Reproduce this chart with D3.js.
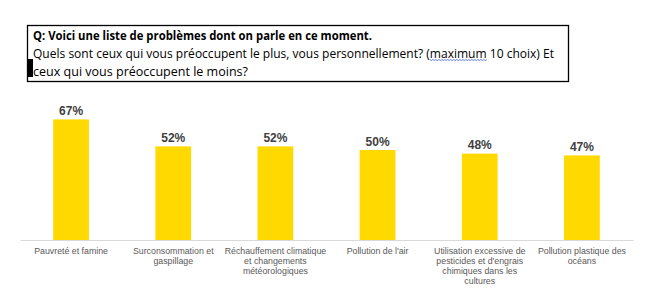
<!DOCTYPE html>
<html>
<head>
<meta charset="utf-8">
<script src="https://cdn.jsdelivr.net/npm/d3@7"></script>
<style>
  html, body { margin: 0; padding: 0; background: #fff; }
  svg { display: block; }
</style>
</head>
<body>
<div id="chart"></div>
<script>
const width = 665;
const height = 297;

// data
const categories = [
  "Pauvreté et famine",
  "Surconsommation et gaspillage",
  "Réchauffement climatique et changements météorologiques",
  "Pollution de l'air",
  "Utilisation excessive de pesticides et d'engrais chimiques dans les cultures",
  "Pollution plastique des océans"
];
const labelLines = [
  ["Pauvreté et famine"],
  ["Surconsommation et", "gaspillage"],
  ["Réchauffement climatique", "et changements", "météorologiques"],
  ["Pollution de l'air"],
  ["Utilisation excessive de", "pesticides et d'engrais", "chimiques dans les", "cultures"],
  ["Pollution plastique des", "océans"]
];
const values = [67, 52, 52, 50, 48, 47];

const titleBold = "Q: Voici une liste de problèmes dont on parle en ce moment.";
const titleLine2 = "Quels sont ceux qui vous préoccupent le plus, vous personnellement? (maximum 10 choix) Et";
const squiggleWord = "maximum";
const titleLine3 = "ceux qui vous préoccupent le moins?";

const svg = d3.select("#chart")
  .append("svg")
  .attr("width", width)
  .attr("height", height);

// ---- question box ----
const box = { x: 27.5, y: 25.5, w: 541, h: 56 };
svg.append("rect")
  .attr("x", box.x).attr("y", box.y)
  .attr("width", box.w).attr("height", box.h)
  .attr("fill", "none")
  .attr("stroke", "#000")
  .attr("stroke-width", 1.3);

const titleFont = "'Open Sans', 'Noto Sans', sans-serif";

function titleText(str, yPos, len, bold) {
  return svg.append("text")
    .attr("x", 33).attr("y", yPos)
    .attr("font-family", titleFont)
    .attr("font-weight", bold ? "bold" : "normal")
    .attr("font-size", 12.5)
    .attr("fill", "#000")
    .attr("textLength", len)
    .attr("lengthAdjust", "spacingAndGlyphs")
    .text(str);
}

titleText(titleBold, 39.5, 339, true);
const t2 = titleText(titleLine2, 57.5, 521, false);
titleText(titleLine3, 76, 215, false);

// spell-check squiggle under "maximum"
{
  const node = t2.node();
  const start = titleLine2.indexOf(squiggleWord);
  const x0 = node.getStartPositionOfChar(start).x;
  const x1 = node.getEndPositionOfChar(start + squiggleWord.length - 1).x;
  const pts = [];
  for (let i = 0; i <= Math.round((x1 - x0) / 1.5); i++) {
    pts.push([x0 + i * 1.5, 59.5 + (i % 2 ? 1 : 0)]);
  }
  svg.append("path")
    .attr("d", d3.line()(pts))
    .attr("fill", "none")
    .attr("stroke", "#3b5bdb")
    .attr("stroke-width", 0.8);
}

// cursor marker
svg.append("rect")
  .attr("x", 27).attr("y", 59)
  .attr("width", 6).attr("height", 18)
  .attr("fill", "#000");

// ---- bar chart ----
const plot = { left: 20, right: 633, bottom: 240, top: 60 };

const x = d3.scaleBand()
  .domain(categories)
  .range([plot.left, plot.right])
  .paddingInner(0.65)
  .paddingOuter(0.325);

const y = d3.scaleLinear()
  .domain([0, 100])
  .range([plot.bottom, plot.top]);

svg.append("g")
  .selectAll("rect")
  .data(values)
  .join("rect")
  .attr("x", (d, i) => x(categories[i]))
  .attr("y", d => y(d))
  .attr("width", x.bandwidth())
  .attr("height", d => y(0) - y(d))
  .attr("fill", "#ffd900");

// baseline axis
const xAxis = svg.append("g")
  .attr("transform", `translate(0, ${plot.bottom})`)
  .call(d3.axisBottom(x).tickSize(0).tickFormat(""));
xAxis.select(".domain").attr("stroke", "#d9d9d9").attr("stroke-width", 1);

// value labels
svg.append("g")
  .selectAll("text")
  .data(values)
  .join("text")
  .attr("x", (d, i) => x(categories[i]) + x.bandwidth() / 2)
  .attr("y", d => y(d) - 4.5)
  .attr("text-anchor", "middle")
  .attr("font-family", "'Liberation Sans', Arial, sans-serif")
  .attr("font-weight", "bold")
  .attr("font-size", 12)
  .attr("fill", "#404040")
  .text(d => d + "%");

// category labels
const catG = svg.append("g")
  .selectAll("text")
  .data(labelLines)
  .join("text")
  .attr("text-anchor", "middle")
  .attr("font-family", "'Liberation Sans', Arial, sans-serif")
  .attr("font-size", 8.8)
  .attr("fill", "#595959");

catG.selectAll("tspan")
  .data((d, i) => d.map(line => ({ line, i })))
  .join("tspan")
  .attr("x", d => x(categories[d.i]) + x.bandwidth() / 2)
  .attr("y", (d, j) => 253.5 + j * 10)
  .text(d => d.line);
</script>
</body>
</html>
